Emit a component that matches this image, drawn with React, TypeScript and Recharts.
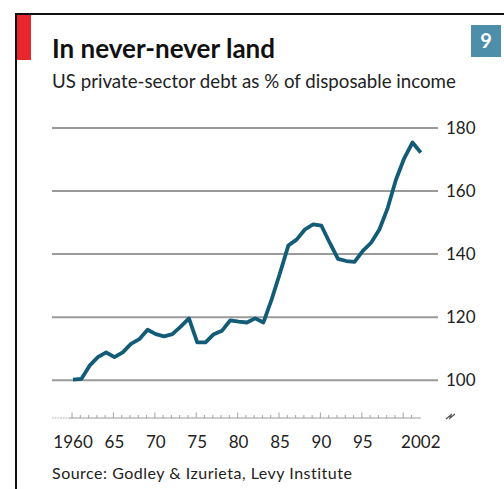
import React from 'react';
import { LineChart, Line, XAxis, YAxis, ReferenceLine } from 'recharts';

const years = [
  1960, 1961, 1962, 1963, 1964, 1965, 1966, 1967, 1968, 1969, 1970, 1971, 1972, 1973,
  1974, 1975, 1976, 1977, 1978, 1979, 1980, 1981, 1982, 1983, 1984, 1985, 1986, 1987,
  1988, 1989, 1990, 1991, 1992, 1993, 1994, 1995, 1996, 1997, 1998, 1999, 2000, 2001, 2002,
];

const debtPct = [
  100.2, 100.4, 104.6, 107.3, 108.8, 107.3, 108.8, 111.5, 113.0, 116.0, 114.6, 113.9,
  114.6, 117.0, 119.6, 112.0, 112.0, 114.6, 115.7, 119.0, 118.6, 118.3, 119.6, 118.3,
  125.7, 134.0, 142.7, 144.6, 147.8, 149.4, 149.0, 143.6, 138.5, 137.8, 137.5, 141.0,
  143.6, 147.8, 154.6, 163.6, 170.4, 175.4, 172.2,
];

const yTicks = [100, 120, 140, 160, 180];
const xTicks = [
  1958, 1959, 1960, 1961, 1962, 1963, 1964, 1965, 1966, 1967, 1968, 1969, 1970, 1971,
  1972, 1973, 1974, 1975, 1976, 1977, 1978, 1979, 1980, 1981, 1982, 1983, 1984, 1985,
  1986, 1987, 1988, 1989, 1990, 1991, 1992, 1993, 1994, 1995, 1996, 1997, 1998, 1999,
  2000, 2001, 2002,
];
const xLabels: Record<number, string> = {
  1960: '1960',
  1965: '65',
  1970: '70',
  1975: '75',
  1980: '80',
  1985: '85',
  1990: '90',
  1995: '95',
  2002: '2002',
};

const data = years.map((year, i) => ({ year, value: debtPct[i] }));

const FONT = 'Lato, "Open Sans", sans-serif';
const TEXT = '#222';

// one year of the ruler: a stretch of baseline, a tick mark, maybe a label
function YearTick(props: any) {
  const { x, y, payload } = props;
  const yr = payload.value as number;
  const half = 4.14;
  const major = yr % 5 === 0;
  const hasMark = yr >= 1960 && yr <= 2001;
  return (
    <g>
      <line
        x1={x - half}
        x2={yr === 2002 ? x : x + half}
        y1={y}
        y2={y}
        stroke="#aaa"
        strokeWidth={1.2}
        strokeDasharray={yr < 1960 ? '1.5 1' : undefined}
      />
      {hasMark && (
        <line
          x1={x - 1}
          x2={x - 1}
          y1={y}
          y2={y - (major ? 5.5 : 3)}
          stroke="#aaa"
          strokeWidth={1.1}
        />
      )}
      {xLabels[yr] && (
        <text
          x={x}
          y={y + 30}
          textAnchor="middle"
          fontFamily={FONT}
          fontSize={17}
          fill={TEXT}
        >
          {xLabels[yr]}
        </text>
      )}
    </g>
  );
}

export default function App() {
  return (
    <div
      style={{
        position: 'absolute',
        left: 0,
        top: 0,
        width: 504,
        height: 489,
        background: '#fff',
        fontFamily: FONT,
        overflow: 'hidden',
      }}
    >
      {/* frame */}
      <div style={{ position: 'absolute', left: 15, top: 13, width: 489, height: 2, background: '#111' }} />
      <div style={{ position: 'absolute', left: 15, top: 13, width: 2, height: 476, background: '#111' }} />
      <div style={{ position: 'absolute', left: 17, top: 15, width: 14, height: 45, background: '#e8262d' }} />
      <div
        style={{
          position: 'absolute',
          left: 471,
          top: 25,
          width: 30,
          height: 32,
          background: '#4d8eab',
          color: '#fff',
          fontWeight: 700,
          fontSize: 20,
          textAlign: 'center',
          lineHeight: '30px',
        }}
      >
        9
      </div>
      <div
        style={{
          position: 'absolute',
          left: 52,
          top: 32,
          fontSize: 26,
          fontWeight: 700,
          color: '#111',
          whiteSpace: 'nowrap',
        }}
      >
        In never-never land
      </div>
      <div
        style={{
          position: 'absolute',
          left: 52,
          top: 70,
          fontSize: 18.7,
          color: TEXT,
          whiteSpace: 'nowrap',
        }}
      >
        US private-sector debt as % of disposable income
      </div>
      <div
        style={{
          position: 'absolute',
          left: 52,
          top: 463,
          fontSize: 16,
          letterSpacing: 0.5,
          color: TEXT,
          whiteSpace: 'nowrap',
        }}
      >
        Source: Godley &amp; Izurieta, Levy Institute
      </div>

      <div style={{ position: 'absolute', left: 0, top: 0 }}>
        <LineChart
          width={504}
          height={489}
          data={data}
          margin={{ top: 128, right: 6, bottom: 31, left: 52 }}
        >
          <XAxis
            dataKey="year"
            type="number"
            domain={[1957.46, 2004.08]}
            ticks={xTicks}
            interval={0}
            axisLine={false}
            tickLine={false}
            tickSize={0}
            tickMargin={0}
            height={40}
            tick={<YearTick />}
          />
          <YAxis
            orientation="right"
            domain={[88, 180]}
            ticks={yTicks}
            axisLine={false}
            tickLine={false}
            width={60}
            tick={{ fill: TEXT, fontSize: 17, fontFamily: FONT, textAnchor: 'start' }}
          />
          {yTicks.map((v) => (
            <ReferenceLine key={v} y={v} stroke="#9a9a9a" strokeWidth={2} />
          ))}
          <Line
            type="linear"
            dataKey="value"
            stroke="#135c78"
            strokeWidth={3.8}
            strokeLinejoin="round"
            dot={false}
            isAnimationActive={false}
          />
        </LineChart>
      </div>

      {/* axis break mark */}
      <svg style={{ position: 'absolute', left: 443, top: 410 }} width={16} height={14}>
        <path d="M3 9 L8 5 L7 8 L12 4" stroke="#555" strokeWidth={1.3} fill="none" />
      </svg>
    </div>
  );
}
